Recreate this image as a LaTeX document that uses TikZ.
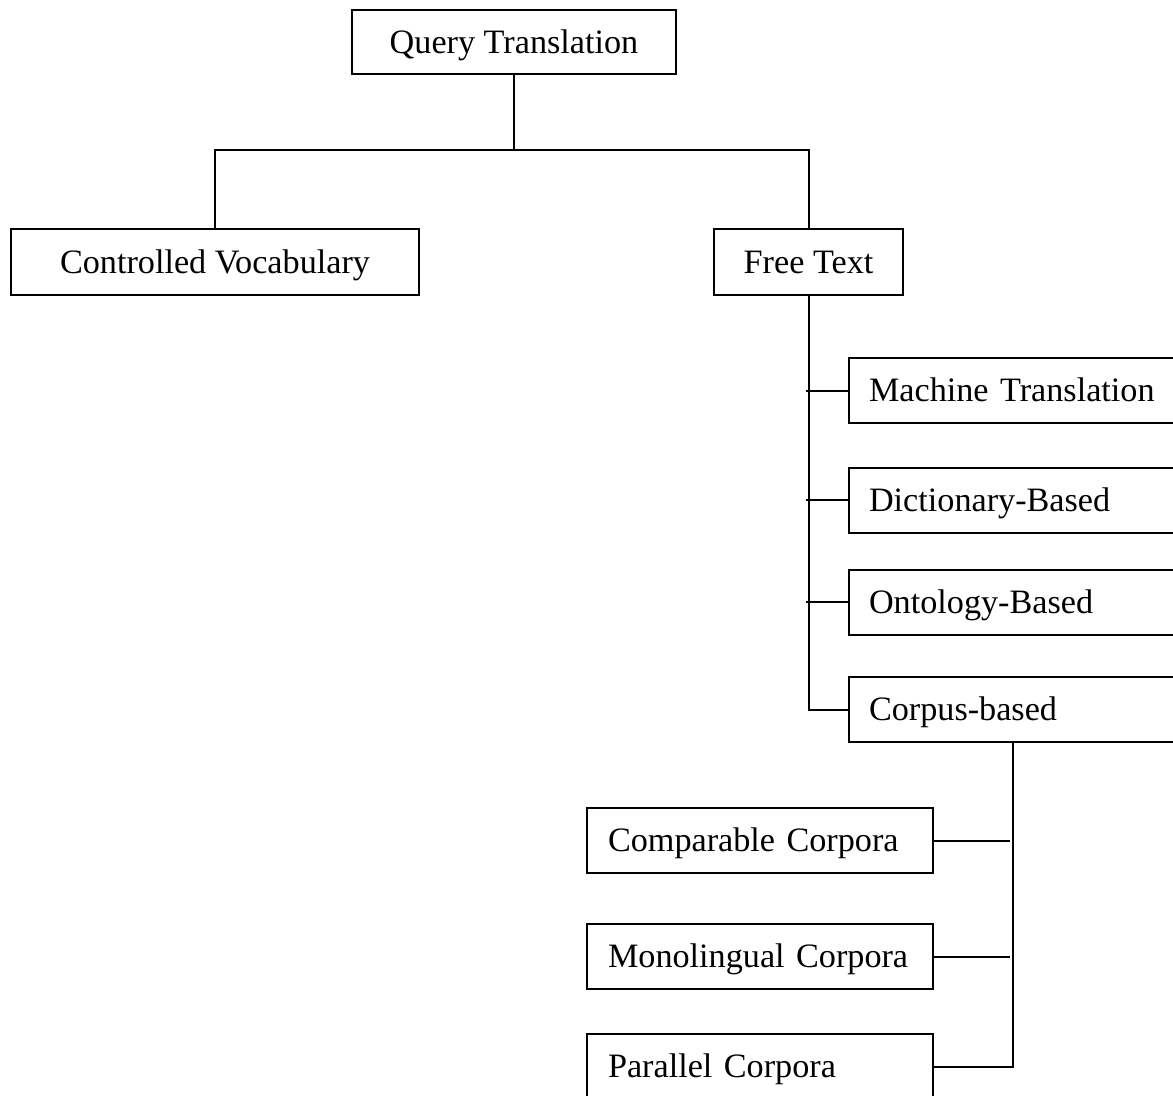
\documentclass[tikz,border=0pt]{standalone}
\usepackage{fontspec}
\setmainfont{Liberation Serif}
\begin{document}
\begin{tikzpicture}[x=0.75pt,y=-0.75pt,
  line width=1.5pt,
  font=\fontsize{25.65pt}{30pt}\selectfont,
  cbox/.style={draw, rectangle, inner sep=0pt, text height=17pt, text depth=0pt},
  rbox/.style={draw, rectangle, anchor=west, inner ysep=0pt, inner xsep=15pt,
    text width=234pt, align=left, minimum height=48.75pt, text height=17pt, text depth=0pt},
  lbox/.style={draw, rectangle, anchor=west, inner ysep=0pt, inner xsep=15.75pt,
    text width=228pt, align=left, minimum height=48.75pt, text height=17pt, text depth=0pt}]
\useasboundingbox (0,0) rectangle (1173,1095);
\clip (0,0) rectangle (1173,1095);

\node[cbox, minimum width=243pt, minimum height=48pt] (QT) at (514,42) {Query Translation};
\node[cbox, minimum width=306pt, minimum height=49.5pt] (CV) at (215,262) {Controlled Vocabulary};
\node[cbox, minimum width=141.75pt, minimum height=49.5pt] (FT) at (808.5,262) {Free Text};

\node[rbox] (MT) at (848,390.5) {Machine Translation};
\node[rbox] (DB) at (848,500) {Dictionary-Based};
\node[rbox] (OB) at (848,602) {Ontology-Based};
\node[rbox] (CB) at (848,709.5) {Corpus-based};

\node[lbox] (CC) at (586,840.5) {Comparable Corpora};
\node[lbox] (MC) at (586,956.5) {Monolingual Corpora};
\node[lbox] (PC) at (586,1066.5) {Parallel Corpora};

\coordinate (j1) at (514,150);
\coordinate (cbx) at (1013,0);

% top tree
\draw (QT.south) -- (j1);
\draw (CV.north) -- (CV.north |- j1) -- (FT.north |- j1) -- (FT.north);

% free text branch
\draw (FT.south) -- (FT.south |- CB.west) -- (CB.west);
\draw ([xshift=-2]FT.south |- MT.west) -- (MT.west);
\draw ([xshift=-2]FT.south |- DB.west) -- (DB.west);
\draw ([xshift=-2]FT.south |- OB.west) -- (OB.west);

% corpus branch
\draw (cbx |- CB.south) -- (cbx |- PC.east) -- (PC.east);
\draw (CC.east) -- ([xshift=-2]cbx |- CC.east);
\draw (MC.east) -- ([xshift=-2]cbx |- MC.east);
\end{tikzpicture}
\end{document}
